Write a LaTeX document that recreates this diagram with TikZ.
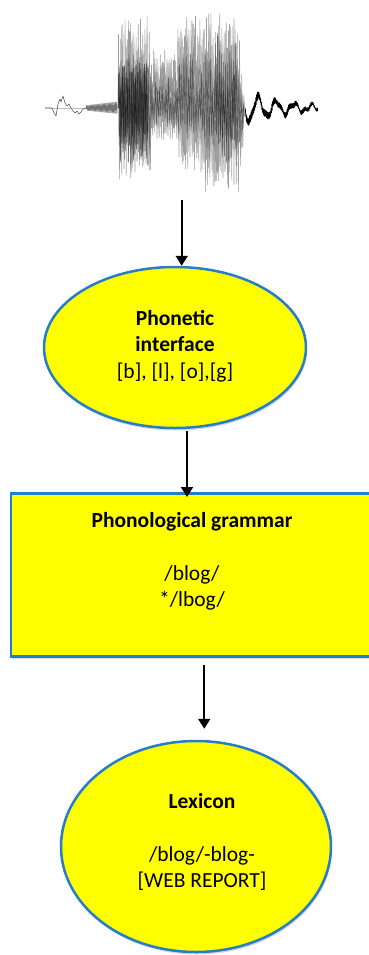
\documentclass[tikz,border=0pt]{standalone}
\usepackage{fontspec}
\setmainfont{Carlito}
\usetikzlibrary{arrows.meta,shapes.geometric,shadows,calc}
\definecolor{bubblefill}{RGB}{255,255,0}
\definecolor{rimblue}{RGB}{38,125,200}

\begin{document}
\begin{tikzpicture}[x=1pt,y=-1pt,
  declare function={
    envup(\t)=(\t<150)?92:((\t<177)?58:((\t<238)?95:95*(245-\t)/7));
    envdn(\t)=(\t<150)?72:((\t<177)?32:((\t<203)?65:((\t<238)?85:85*(245-\t)/7)));
    tailw(\t)=-13*exp(-(\t-250)/40)*sin((\t-253.5)*20)+2*sin((\t-245)*47);
  },
  rim/.style={draw=rimblue, line width=2.5pt, fill=bubblefill,
    drop shadow={shadow xshift=1pt, shadow yshift=-2.5pt, opacity=0.25, fill=black!60}},
  bubble/.style={rim, ellipse, inner sep=0pt},
  panel/.style={rim, rectangle, inner sep=0pt},
  txt/.style={font=\fontsize{21.5}{26.5}\selectfont, align=center, inner sep=0pt, anchor=north},
  flow/.style={line width=2pt, -{Triangle[width=12pt,length=10pt]}},
  wave/.style={line width=0.55pt, line join=round},
]
\useasboundingbox (0,0) rectangle (368,955);
\pgfmathsetseed{42}

% ---- speech waveform ----
% zero line
\draw[black!25, line width=0.4pt] (45,108) -- (118,108);
% low-level noise before the burst
\draw[black!70, line width=0.5pt, line join=round] (45,108) -- (52,108) -- (54,113) -- (56,116)
  -- (58,104) -- (60,99) -- (61,102) -- (63,96) -- (65,103) -- (67,106) -- (69,104) -- (71,108)
  -- (73,111) -- (75,113) -- (77,111) -- (79,114) -- (81,112) -- (83,109) -- (86,108);
% voicing ripple
\draw[wave, black!55] (86,108) \foreach \x in {86.6,87.8,...,117.5}
  { -- (\x,{108-(2.5+0.12*(\x-86))}) -- (\x+0.6,{108+(2.5+0.1*(\x-86))}) };
% voiced stretch, layered strokes
\draw[wave, black, opacity=0.38] (118,108) \foreach \x in {118.5,120.7,...,244}
  { -- (\x,{108-envup(\x)*(0.7+0.3*rnd)}) -- (\x+1.1,{108+envdn(\x)*(0.7+0.3*rnd)}) };
\draw[wave, black, opacity=0.38] (119,108) \foreach \x in {119.6,121.8,...,244}
  { -- (\x,{108-envup(\x)*(0.4+0.55*rnd)}) -- (\x+1.1,{108+envdn(\x)*(0.4+0.55*rnd)}) };
\draw[wave, black, opacity=0.42] (119,108) \foreach \x in {120.1,122.3,...,244}
  { -- (\x,{108-envup(\x)*(0.15+0.45*rnd)}) -- (\x+1.1,{108+envdn(\x)*(0.15+0.45*rnd)}) };
% dark onset of the vowel
\draw[wave, black, opacity=0.55] (118,108) \foreach \x in {118.5,119.8,...,148}
  { -- (\x,{108-(28+20*rnd)}) -- (\x+0.65,{108+(35+22*rnd)}) };
% darker streaks inside the second vowel
\draw[wave, black, opacity=0.35] (215,108) \foreach \x in {215.5,217.5,...,236}
  { -- (\x,{108-(40+45*rnd)}) -- (\x+1,{108+(20+40*rnd)}) };
% final consonant: dense dark band
\draw[wave, black, line width=0.7pt] (245,108) \foreach \x in {245.4,246.2,...,318}
  { -- (\x,{108+tailw(\x)-(4.6-0.04*(\x-245))*(0.6+0.4*rnd)})
    -- (\x+0.4,{108+tailw(\x)+(4.6-0.04*(\x-245))*(0.6+0.4*rnd)}) };
\coordinate (wavefoot) at (181.7,200);

% ---- processing stages ----
\node[bubble, minimum width=262pt, minimum height=161pt] (phon) at (175,347.5) {};
\node[txt] (phontext) at (175,310) {\textbf{Phonetic}\\\textbf{interface}\\{[b], [l], [o],[g]}};

\node[panel, minimum width=366pt, minimum height=163pt, anchor=north west] (gram) at (9.5,492) {};
\node[txt] (gramtext) at (192,512) {\textbf{Phonological grammar}\\[26.5pt]/blog/\\{*}/lbog/};

\node[bubble, minimum width=270pt, minimum height=211pt] (lex) at (196,846.5) {};
\node[txt] (lextext) at (202,793) {\textbf{Lexicon}\\[26.5pt]/blog/-blog-\\{[WEB REPORT]}};

% ---- arrows ----
\draw[flow] (wavefoot) -- (wavefoot |- phon.north);
\coordinate (p2) at ($(phon.south)+(12,2)$);
\draw[flow] (p2) -- ($(p2 |- gram.north)+(0,5)$);
\coordinate (p3) at ($(gram.south)+(10.5,7)$);
\draw[flow] (p3) -- ($(p3 |- lex.north)+(0,-11)$);
\end{tikzpicture}
\end{document}
